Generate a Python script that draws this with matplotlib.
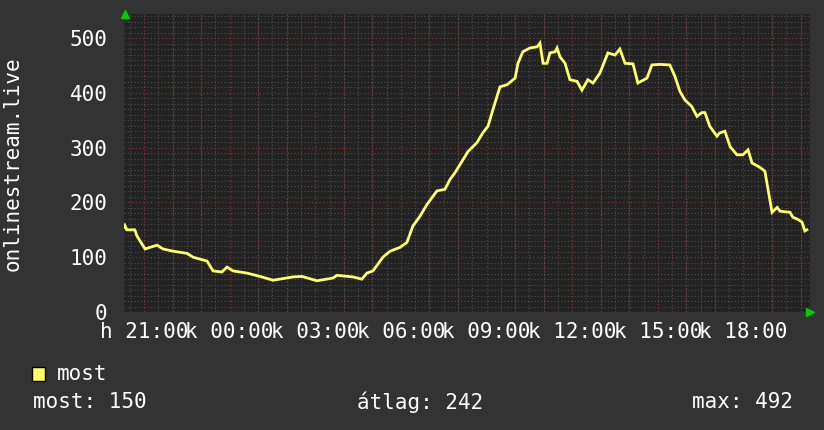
import matplotlib
matplotlib.use("Agg")
import matplotlib.pyplot as plt
import numpy as np
from matplotlib.ticker import MultipleLocator, FixedLocator, FixedFormatter

# time in hours counted from Monday 00:00 (values > 24 are Tuesday)
hours = [20.30, 20.33, 20.40, 20.68, 20.75, 21.04, 21.21, 21.46, 21.67, 22.02,
         22.51, 22.72, 23.21, 23.42, 23.73, 23.91, 24.12, 24.61, 25.06, 25.52,
         26.22, 26.53, 27.06, 27.62, 27.76, 28.32, 28.63, 28.81, 29.02, 29.37,
         29.62, 29.97, 30.21, 30.42, 30.67, 30.91, 31.26, 31.54, 31.72, 31.89,
         32.14, 32.35, 32.66, 32.87, 33.05, 33.22, 33.47, 33.72, 34.00, 34.10,
         34.27, 34.52, 34.77, 34.87, 34.98, 35.12, 35.22, 35.40, 35.47, 35.57,
         35.75, 35.92, 36.17, 36.34, 36.55, 36.73, 36.97, 37.25, 37.50, 37.67,
         37.85, 38.13, 38.30, 38.62, 38.79, 39.07, 39.42, 39.60, 39.77, 39.95,
         40.19, 40.37, 40.54, 40.65, 40.82, 41.07, 41.17, 41.35, 41.53, 41.77,
         41.98, 42.16, 42.30, 42.58, 42.75, 42.86, 43.00, 43.18, 43.28, 43.63,
         43.73, 43.91, 44.05, 44.15, 44.22]
values = [155, 158, 150, 150, 139, 115, 118, 122, 115, 111,
          107, 100, 93, 75, 73, 82, 75, 71, 65, 58,
          64, 65, 57, 62, 67, 64, 60, 71, 75, 100,
          111, 118, 127, 157, 175, 196, 221, 224, 242, 254,
          275, 293, 309, 327, 339, 369, 411, 415, 427, 454,
          475, 482, 484, 491, 454, 454, 473, 475, 482, 466,
          454, 424, 421, 405, 424, 418, 436, 473, 469, 480,
          454, 453, 418, 427, 451, 452, 451, 430, 403, 387,
          375, 357, 364, 364, 339, 321, 327, 330, 302, 287,
          287, 296, 272, 264, 257, 224, 182, 191, 184, 182,
          173, 169, 164, 148, 150]

tick_hours = [21, 24, 27, 30, 33, 36, 39, 42]
tick_labels = ["h 21:00", "k 00:00", "k 03:00", "k 06:00", "k 09:00",
               "k 12:00", "k 15:00", "k 18:00"]
y_ticks = [0, 100, 200, 300, 400, 500]

series_name = "most"
stat_labels = ["most: 150", "átlag: 242", "max: 492"]
y_title = "onlinestream.live"

BG = "#333333"
CANVAS = "#222222"
FG = "#ffffff"
LINE = "#ffff66"
MONO = ["DejaVu Sans Mono"]
FS = 15

fig = plt.figure(figsize=(8.24, 4.30), dpi=100, facecolor=BG)
W, H = 824, 430
L, R, T, B = 124, 810, 14, 312
ax = fig.add_axes([L / W, 1 - B / H, (R - L) / W, (B - T) / H])
ax.set_facecolor(CANVAS)

ax.set_xlim(20.30, 44.33)
ax.set_ylim(0, 544)

# grid
ax.xaxis.set_minor_locator(MultipleLocator(0.5))
ax.yaxis.set_minor_locator(MultipleLocator(10))
ax.grid(which="minor", color="#4f4f4f", linestyle=(0, (1, 2)), linewidth=0.8)
for h in np.arange(21, 44.5, 1):
    ax.axvline(h, color="#843333", linestyle=(0, (1, 2)), linewidth=0.9, zorder=1)
for v in y_ticks:
    ax.axhline(v, color="#843333", linestyle=(0, (1, 2)), linewidth=0.9, zorder=1)

ax.plot(hours, values, color=LINE, linewidth=2.0, zorder=3, solid_joinstyle="miter")

ax.xaxis.set_major_locator(FixedLocator(tick_hours))
ax.xaxis.set_major_formatter(FixedFormatter(tick_labels))
ax.set_yticks(y_ticks)
ax.tick_params(axis="both", which="both", length=0, colors=FG, labelsize=FS)
ax.tick_params(axis="x", pad=7)
ax.tick_params(axis="y", pad=12)
for lab in ax.get_xticklabels() + ax.get_yticklabels():
    lab.set_family(MONO)

for s in ax.spines.values():
    s.set_visible(False)

# arrows
ax.plot([0.002], [1.0], marker="^", color="#00cc00", markersize=6,
        transform=ax.transAxes, clip_on=False, zorder=5)
ax.plot([1.0], [0.0], marker=">", color="#00cc00", markersize=6,
        transform=ax.transAxes, clip_on=False, zorder=5)

# y title
fig.text(13 / W, 1 - 164 / H, y_title, rotation=90, ha="center", va="center",
         color=FG, fontsize=FS, family=MONO)

# legend
fig.patches.append(plt.Rectangle((32 / W, 1 - 381 / H), 13 / W, 14 / H,
                                 transform=fig.transFigure, facecolor=LINE,
                                 edgecolor="black", linewidth=1))
fig.text(57 / W, 1 - 374 / H, series_name, ha="left", va="center",
         color=FG, fontsize=FS, family=MONO)
fig.text(33 / W, 1 - 402 / H, stat_labels[0], ha="left", va="center",
         color=FG, fontsize=FS, family=MONO)
fig.text(420 / W, 1 - 402 / H, stat_labels[1], ha="center", va="center",
         color=FG, fontsize=FS, family=MONO)
fig.text(793 / W, 1 - 402 / H, stat_labels[2], ha="right", va="center",
         color=FG, fontsize=FS, family=MONO)

fig.savefig("out.png", dpi=100, facecolor=BG)
